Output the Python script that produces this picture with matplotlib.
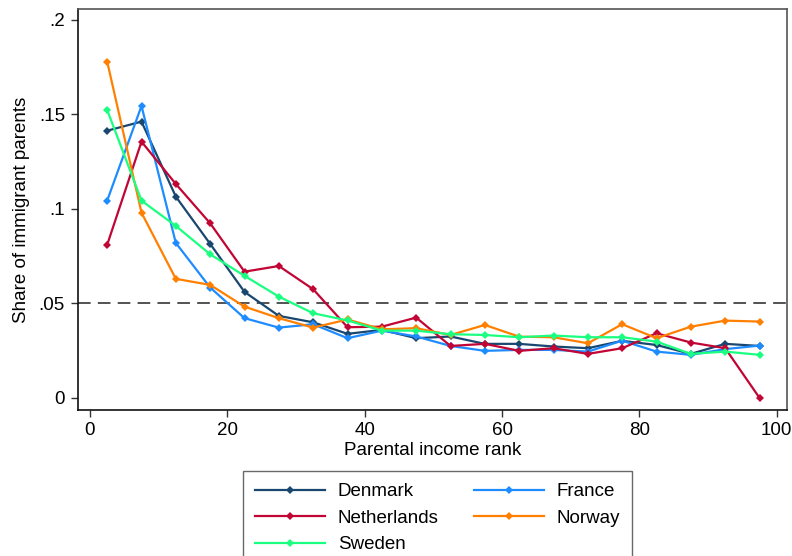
import matplotlib
matplotlib.use("Agg")
import matplotlib.pyplot as plt
import numpy as np

plt.rcParams['font.family'] = ['Liberation Sans', 'DejaVu Sans']

rank = [2.5, 7.5, 12.5, 17.5, 22.5, 27.5, 32.5, 37.5, 42.5, 47.5,
        52.5, 57.5, 62.5, 67.5, 72.5, 77.5, 82.5, 87.5, 92.5, 97.5]

denmark = [0.1414, 0.1462, 0.1065, 0.0815, 0.0561, 0.0434, 0.0400, 0.0339, 0.0360, 0.0316,
           0.0325, 0.0286, 0.0286, 0.0272, 0.0263, 0.0302, 0.0280, 0.0233, 0.0286, 0.0275]
france = [0.1044, 0.1545, 0.0820, 0.0584, 0.0422, 0.0372, 0.0390, 0.0316, 0.0356, 0.0325,
          0.0275, 0.0249, 0.0254, 0.0254, 0.0245, 0.0303, 0.0245, 0.0228, 0.0258, 0.0277]
netherlands = [0.0810, 0.1356, 0.1132, 0.0924, 0.0668, 0.0698, 0.0575, 0.0374, 0.0377, 0.0425,
               0.0275, 0.0286, 0.0249, 0.0263, 0.0233, 0.0263, 0.0342, 0.0293, 0.0263, 0.0000]
norway = [0.1780, 0.0980, 0.0630, 0.0598, 0.0483, 0.0422, 0.0372, 0.0415, 0.0363, 0.0369,
          0.0333, 0.0386, 0.0324, 0.0321, 0.0289, 0.0390, 0.0316, 0.0377, 0.0409, 0.0404]
sweden = [0.1524, 0.1044, 0.0910, 0.0760, 0.0646, 0.0536, 0.0448, 0.0410, 0.0356, 0.0356,
          0.0337, 0.0333, 0.0321, 0.0330, 0.0321, 0.0321, 0.0298, 0.0233, 0.0245, 0.0228]

series = [
    ("Denmark", denmark, "#1a476f"),
    ("France", france, "#1e8cff"),
    ("Netherlands", netherlands, "#c10534"),
    ("Norway", norway, "#ff8000"),
    ("Sweden", sweden, "#1aff80"),
]

FS = 13.5

fig = plt.figure(figsize=(7.92, 5.56), dpi=100)
ax = fig.add_axes([77.5 / 792, 1 - 410 / 556, (787 - 77.5) / 792, (410 - 9) / 556])

handles = {}
for name, vals, col in series:
    h, = ax.plot(rank, vals, color=col, lw=1.6, marker='D', markersize=4.5,
                 markeredgewidth=0, label=name)
    handles[name] = h

ax.axhline(0.05, color='#444444', lw=1.3, dashes=(7, 4), zorder=0)

ax.set_xlim(-1.82, 101.5)
ax.set_ylim(-0.0064, 0.2058)
ax.set_xticks([0, 20, 40, 60, 80, 100])
ax.set_yticks([0, 0.05, 0.1, 0.15, 0.2])
ax.set_yticklabels(['0', '.05', '.1', '.15', '.2'])
ax.tick_params(axis='both', labelsize=FS, length=5, width=1, color='#333333')
ax.tick_params(axis='y', pad=4)
ax.set_xlabel('Parental income rank', fontsize=FS, labelpad=2)
ax.set_ylabel('Share of immigrant parents', fontsize=FS, labelpad=6)

for s in ['left', 'bottom']:
    ax.spines[s].set_color('#111111')
    ax.spines[s].set_linewidth(1.2)
for s in ['top', 'right']:
    ax.spines[s].set_color('#555555')
    ax.spines[s].set_linewidth(1.2)

order = ["Denmark", "Netherlands", "Sweden", "France", "Norway"]
leg = fig.legend([handles[n] for n in order], order, ncol=2,
                 loc='upper left', bbox_to_anchor=(243 / 792, 1 - 471 / 556),
                 borderaxespad=0.0,
                 fontsize=FS, frameon=True, fancybox=False, edgecolor='#444444',
                 handlelength=3.7, handletextpad=0.7, columnspacing=1.9,
                 labelspacing=0.5, borderpad=0.65, markerscale=1.0)
leg.get_frame().set_linewidth(1.0)

fig.savefig('out.png', dpi=100)
